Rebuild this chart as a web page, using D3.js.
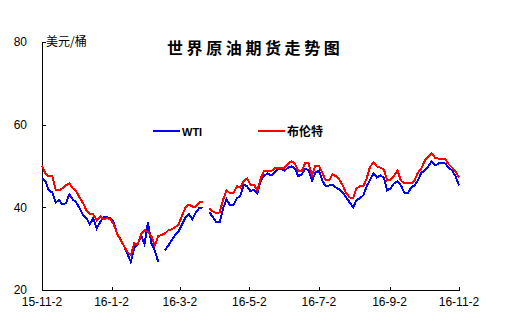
<!DOCTYPE html>
<html>
<head>
<meta charset="utf-8">
<script src="https://cdn.jsdelivr.net/npm/d3@7"></script>
<style>
  html, body { margin: 0; padding: 0; background: #fff; }
  svg { display: block; }
  text { font-family: "Liberation Sans", Arial, sans-serif; fill: #000; }
  .cjk { font-family: "Noto Sans CJK SC", sans-serif; }
</style>
</head>
<body>
<svg id="chart" width="510" height="336"></svg>
<script>
// Daily closes sampled every third day, from 2015-11-02 to 2016-11-02 (USD per barrel)
const startDate = "2015-11-02";
const endDate = "2016-11-02";
const stepDays = 3;

const wti = [
  47.0, 46.3, 44.1, 43.6, 41.2, 41.7, 40.7, 41.0, 43.1, 41.9,
  41.2, 39.8, 38.1, 37.4, 35.9, 37.4, 34.9, 36.4, 37.6, 37.6,
  37.4, 36.4, 33.5, 32.3, 30.6, 28.7, 26.8, 30.1, 31.1, 33.3,
  31.1, 36.4, 31.3, 29.6, 26.8, null, 29.6, 30.8, 32.1, 33.3,
  34.2, 35.9, 37.6, 38.3, 37.1, 38.8, 39.8, 40.0, null, 38.8,
  37.6, 36.4, 36.4, 39.8, 41.9, 40.5, 40.5, 42.2, 42.7, 45.5,
  45.1, 43.9, 44.3, 43.4, 46.5, 47.7, 48.2, 47.7, 48.4, 49.2,
  49.2, 48.9, 49.6, 49.9, 49.4, 47.5, 48.0, 49.4, 48.9, 46.5,
  48.4, 48.9, 46.5, 45.1, 45.3, 45.5, 44.8, 44.3, 43.6, 42.4,
  41.2, 40.0, 41.7, 42.2, 42.9, 45.1, 46.7, 48.2, 47.2, 47.7,
  47.2, 44.1, 44.6, 45.8, 46.3, 45.3, 43.6, 43.4, 44.8, 45.3,
  46.5, 48.4, 48.9, 49.9, 51.1, 50.1, 50.6, 50.8, 50.6, 49.6,
  48.9, 47.5, 45.3
];

const brent = [
  50.1, 48.2, 47.5, 47.5, 44.3, 44.1, 44.6, 45.3, 45.8, 44.6,
  43.9, 42.4, 41.0, 39.3, 38.3, 38.3, 36.9, 37.8, 37.1, 37.4,
  37.1, 35.9, 33.5, 32.1, 30.6, 29.2, 28.4, 31.3, 31.1, 33.5,
  34.5, 34.0, 33.0, 30.8, 33.0, 33.3, 33.7, 34.5, 34.7, 35.2,
  35.9, 38.1, 40.0, 40.7, 40.2, 40.2, 41.2, 41.2, null, 39.8,
  39.0, 38.6, 38.8, 41.9, 44.1, 43.4, 43.4, 45.1, 44.8, 46.3,
  47.0, 45.5, 45.5, 44.1, 47.0, 48.9, 48.9, 48.7, 49.4, 49.4,
  49.6, 49.6, 50.6, 51.1, 50.6, 48.7, 48.7, 50.8, 50.6, 47.7,
  50.1, 50.1, 48.4, 46.5, 46.5, 48.0, 47.5, 46.7, 45.3, 43.4,
  42.4, 42.2, 44.6, 45.1, 45.1, 47.0, 49.9, 50.8, 49.9, 49.6,
  49.2, 46.5, 46.7, 47.7, 48.9, 46.5, 45.8, 45.8, 45.8, 46.5,
  48.4, 49.4, 51.3, 52.3, 53.0, 52.0, 51.8, 51.8, 51.6, 50.4,
  49.6, 48.7, 47.2
];

const seriesNames = ["WTI", "布伦特"];
const seriesColors = ["#0000ff", "#ff0000"];
const tickDates = ["2015-11-02", "2016-01-02", "2016-03-02", "2016-05-02", "2016-07-02", "2016-09-02", "2016-11-02"];
const tickLabels = ["15-11-2", "16-1-2", "16-3-2", "16-5-2", "16-7-2", "16-9-2", "16-11-2"];
const yTicks = [20, 40, 60, 80];
const titleText = "世界原油期货走势图";
const unitText = "美元/桶";

const parse = d3.timeParse("%Y-%m-%d");
const t0 = parse(startDate), t1 = parse(endDate);
const dates = d3.timeDay.range(t0, d3.timeDay.offset(t1, 1), stepDays);

const svg = d3.select("#chart");
const x = d3.scaleTime().domain([t0, t1]).range([42, 459]);
const y = d3.scaleLinear().domain([20, 80]).range([290, 42]);

// Title
svg.append("text")
  .attr("class", "cjk")
  .attr("x", 167).attr("y", 54)
  .attr("font-size", 16).attr("font-weight", "bold")
  .attr("letter-spacing", 3.6)
  .text(titleText);

// Unit label
svg.append("text")
  .attr("class", "cjk")
  .attr("x", 46).attr("y", 46)
  .attr("font-size", 12)
  .text(unitText);

// Y axis with inward ticks
const yAxis = d3.axisRight(y).tickValues(yTicks).tickSize(4).tickFormat("");
const gy = svg.append("g").attr("transform", "translate(42,0)").call(yAxis);
gy.select(".domain").attr("d", `M0.5,${y(80)}V${y(20)}`);
gy.selectAll("line, path").attr("stroke", "#000").attr("shape-rendering", "crispEdges");
svg.append("g").selectAll("text").data(yTicks).join("text")
  .attr("x", 27).attr("y", d => y(d) + 4.3)
  .attr("text-anchor", "end")
  .attr("font-size", 12)
  .text(d => d);

// X axis with upward ticks
const xAxis = d3.axisTop(x).tickValues(tickDates.map(parse)).tickSize(3).tickFormat("");
const gx = svg.append("g").attr("transform", "translate(0,290)").call(xAxis);
gx.select(".domain").attr("d", `M${x(t0)},0.5H${x(t1) + 1}`);
gx.selectAll("line, path").attr("stroke", "#000").attr("shape-rendering", "crispEdges");
svg.append("g").selectAll("text").data(tickDates).join("text")
  .attr("x", d => x(parse(d)))
  .attr("y", 306)
  .attr("text-anchor", "middle")
  .attr("font-size", 12)
  .text((d, i) => tickLabels[i]);

// Price lines
const line = d3.line()
  .defined(d => d.v != null)
  .x(d => x(d.t))
  .y(d => y(d.v));

[wti, brent].forEach((vals, i) => {
  const pts = vals.map((v, j) => ({ t: dates[j], v }));
  svg.append("path")
    .datum(pts)
    .attr("fill", "none")
    .attr("stroke", seriesColors[i])
    .attr("stroke-width", 2)
    .attr("stroke-linejoin", "miter")
    .attr("shape-rendering", "crispEdges")
    .attr("d", line);
});

// Legend
const legendX = [153, 258];
const legend = svg.append("g");
seriesNames.forEach((name, i) => {
  legend.append("line")
    .attr("x1", legendX[i]).attr("x2", legendX[i] + 27)
    .attr("y1", 131).attr("y2", 131)
    .attr("stroke", seriesColors[i]).attr("stroke-width", 2)
    .attr("shape-rendering", "crispEdges");
  legend.append("text")
    .attr("class", i === 1 ? "cjk" : null)
    .attr("x", legendX[i] + 29).attr("y", i === 1 ? 136 : 135.5)
    .attr("font-size", i === 1 ? 12 : 11)
    .attr("font-weight", "bold")
    .text(name);
});
</script>
</body>
</html>
